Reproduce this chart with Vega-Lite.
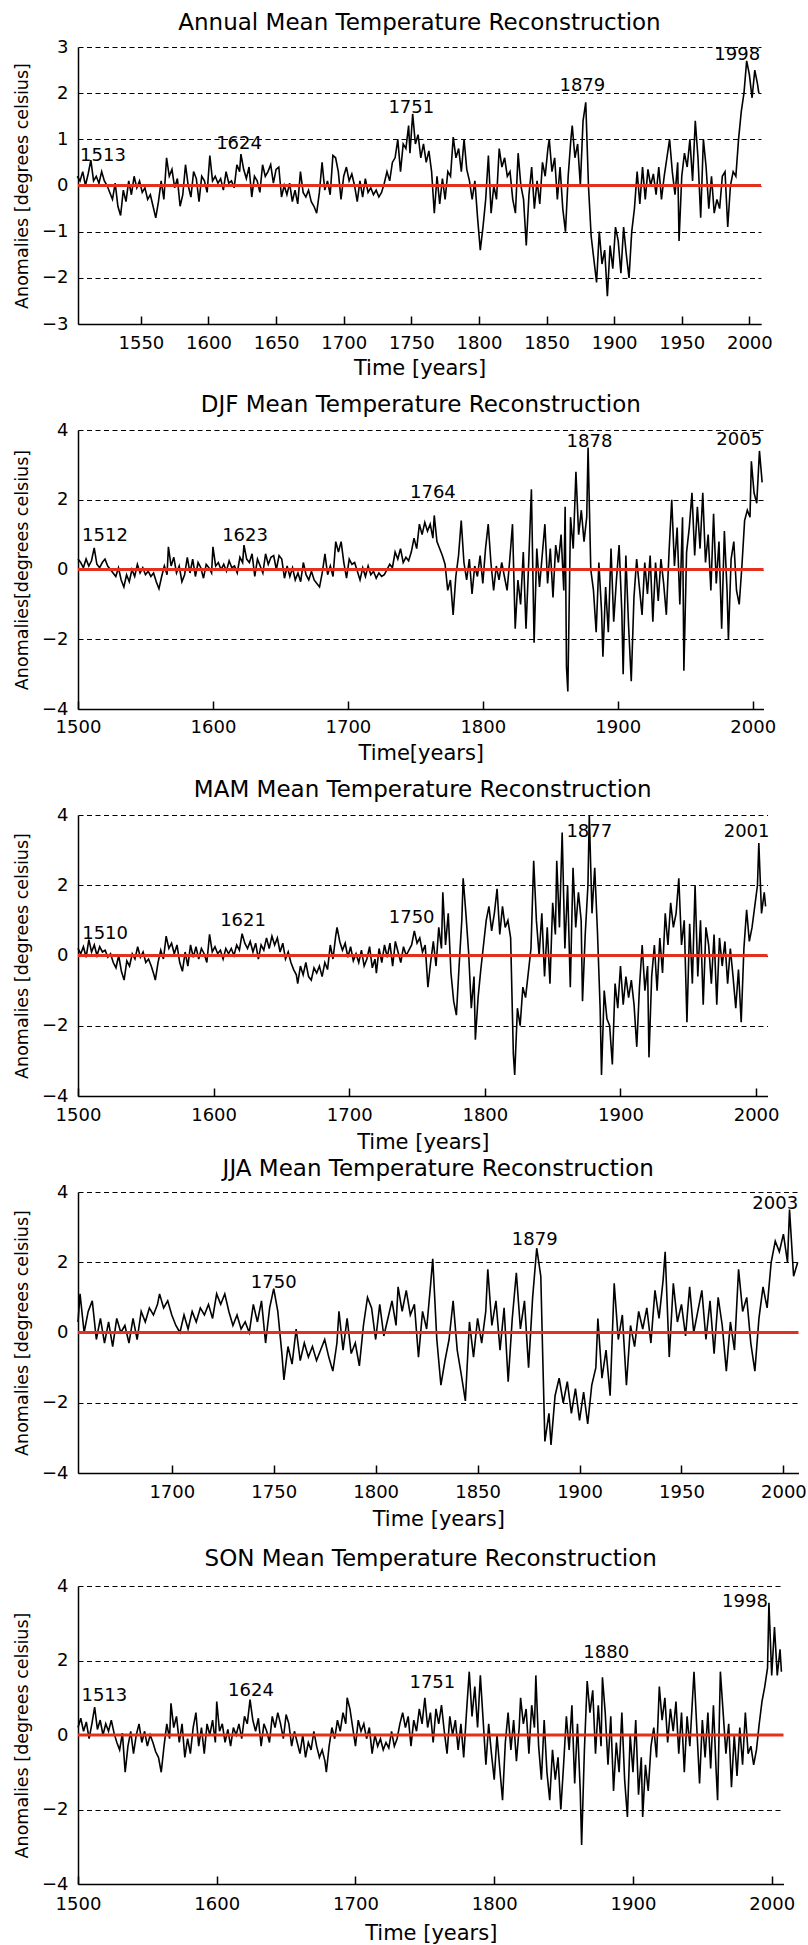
{
"$schema": "https://vega.github.io/schema/vega-lite/v6.json",
"padding": {"left": 12, "top": 12, "right": 0, "bottom": 0},
"columns": 1,
"align": "none",
"spacing": 4,
"config": {
  "font": "DejaVu Sans",
  "view": {"stroke": null},
  "axis": {"labelFont": "DejaVu Sans", "labelFontSize": 18, "labelColor": "#000", "titleFont": "DejaVu Sans", "titleFontWeight": "normal", "titleColor": "#000", "domainColor": "#000", "domainWidth": 1.5, "tickColor": "#000", "tickWidth": 1.5, "labelFlush": false, "labelOverlap": false, "labelBound": false},
  "axisX": {"grid": false, "tickSize": -8, "titleFontSize": 21, "format": "d"},
  "axisY": {"grid": true, "gridDash": [5, 3.5], "gridColor": "#000", "gridWidth": 1, "gridOpacity": 1, "ticks": false, "labelPadding": 10, "minExtent": 30, "maxExtent": 30, "titleFontSize": 17.5, "titlePadding": 17},
  "title": {"font": "DejaVu Sans", "fontSize": 23, "fontWeight": "normal", "color": "#000", "baseline": "bottom", "anchor": "middle", "frame": "group"}
},
"datasets": {
"ann": [{"x":1503,"y":0.2},{"x":1505,"y":0.1},{"x":1507,"y":0.3},{"x":1509,"y":0},{"x":1511,"y":0.25},{"x":1513,"y":0.55},{"x":1515,"y":0.1},{"x":1517,"y":0.2},{"x":1519,"y":0.05},{"x":1521,"y":0.3},{"x":1523,"y":0.1},{"x":1525,"y":0},{"x":1527,"y":-0.15},{"x":1529,"y":-0.3},{"x":1531,"y":0.05},{"x":1533,"y":-0.45},{"x":1535,"y":-0.65},{"x":1537,"y":-0.1},{"x":1539,"y":-0.35},{"x":1541,"y":0.1},{"x":1543,"y":-0.2},{"x":1545,"y":0.2},{"x":1547,"y":-0.05},{"x":1549,"y":0.1},{"x":1551,"y":-0.15},{"x":1553,"y":-0.05},{"x":1555,"y":-0.3},{"x":1557,"y":-0.2},{"x":1559,"y":-0.45},{"x":1561,"y":-0.7},{"x":1563,"y":-0.35},{"x":1565,"y":0.1},{"x":1567,"y":-0.3},{"x":1569,"y":0.6},{"x":1571,"y":0.2},{"x":1573,"y":0.35},{"x":1575,"y":-0.05},{"x":1577,"y":0.15},{"x":1579,"y":-0.45},{"x":1581,"y":-0.2},{"x":1583,"y":0.45},{"x":1585,"y":0},{"x":1587,"y":-0.25},{"x":1589,"y":0.3},{"x":1591,"y":0.15},{"x":1593,"y":-0.35},{"x":1595,"y":0.2},{"x":1597,"y":0.1},{"x":1599,"y":-0.15},{"x":1601,"y":0.65},{"x":1603,"y":0.1},{"x":1605,"y":0.2},{"x":1607,"y":0.05},{"x":1609,"y":0.15},{"x":1611,"y":-0.1},{"x":1613,"y":0.3},{"x":1615,"y":0.05},{"x":1617,"y":0.1},{"x":1619,"y":-0.05},{"x":1621,"y":0.45},{"x":1623,"y":0.3},{"x":1624,"y":0.68},{"x":1626,"y":0.35},{"x":1628,"y":0.15},{"x":1630,"y":0.4},{"x":1632,"y":-0.25},{"x":1634,"y":0.2},{"x":1636,"y":0.1},{"x":1638,"y":-0.15},{"x":1640,"y":0.45},{"x":1642,"y":0.2},{"x":1644,"y":0.3},{"x":1646,"y":0.45},{"x":1648,"y":0.05},{"x":1650,"y":0.35},{"x":1652,"y":0.4},{"x":1654,"y":-0.25},{"x":1656,"y":0},{"x":1658,"y":-0.2},{"x":1660,"y":0.05},{"x":1662,"y":-0.35},{"x":1664,"y":-0.1},{"x":1666,"y":-0.4},{"x":1668,"y":0.3},{"x":1670,"y":-0.15},{"x":1672,"y":-0.25},{"x":1674,"y":-0.1},{"x":1676,"y":-0.35},{"x":1678,"y":-0.45},{"x":1680,"y":-0.6},{"x":1682,"y":-0.15},{"x":1684,"y":0.5},{"x":1686,"y":-0.1},{"x":1688,"y":0.1},{"x":1690,"y":-0.2},{"x":1692,"y":0.65},{"x":1694,"y":0.6},{"x":1696,"y":0.3},{"x":1698,"y":-0.3},{"x":1700,"y":0.2},{"x":1702,"y":0.4},{"x":1704,"y":0.1},{"x":1706,"y":0.25},{"x":1708,"y":0},{"x":1710,"y":-0.35},{"x":1712,"y":0.1},{"x":1714,"y":-0.25},{"x":1716,"y":0.15},{"x":1718,"y":-0.15},{"x":1720,"y":-0.05},{"x":1722,"y":-0.2},{"x":1724,"y":-0.1},{"x":1726,"y":-0.25},{"x":1728,"y":-0.15},{"x":1730,"y":0.05},{"x":1732,"y":0.3},{"x":1734,"y":0.1},{"x":1736,"y":0.5},{"x":1738,"y":0.6},{"x":1740,"y":1.0},{"x":1742,"y":0.3},{"x":1744,"y":0.9},{"x":1746,"y":0.8},{"x":1748,"y":1.3},{"x":1749,"y":0.7},{"x":1751,"y":1.55},{"x":1753,"y":0.9},{"x":1755,"y":1.1},{"x":1757,"y":0.6},{"x":1759,"y":0.9},{"x":1761,"y":0.5},{"x":1763,"y":0.75},{"x":1765,"y":0.3},{"x":1767,"y":-0.6},{"x":1769,"y":0.2},{"x":1771,"y":-0.4},{"x":1773,"y":0.15},{"x":1775,"y":-0.3},{"x":1777,"y":0.3},{"x":1779,"y":0.2},{"x":1781,"y":1.05},{"x":1783,"y":0.6},{"x":1785,"y":0.8},{"x":1787,"y":0.3},{"x":1789,"y":1.0},{"x":1791,"y":0.35},{"x":1793,"y":0.1},{"x":1795,"y":-0.3},{"x":1797,"y":0.1},{"x":1799,"y":-0.7},{"x":1801,"y":-1.4},{"x":1803,"y":-0.9},{"x":1805,"y":-0.3},{"x":1807,"y":0.65},{"x":1809,"y":-0.6},{"x":1811,"y":0},{"x":1813,"y":-0.3},{"x":1815,"y":0.8},{"x":1817,"y":0.4},{"x":1819,"y":0.6},{"x":1821,"y":0.2},{"x":1823,"y":0.3},{"x":1825,"y":-0.3},{"x":1827,"y":-0.6},{"x":1829,"y":0.7},{"x":1831,"y":0},{"x":1833,"y":-0.3},{"x":1835,"y":-1.3},{"x":1837,"y":-0.2},{"x":1839,"y":0.4},{"x":1841,"y":-0.5},{"x":1843,"y":0.1},{"x":1845,"y":-0.4},{"x":1847,"y":0.5},{"x":1849,"y":0.2},{"x":1851,"y":0.8},{"x":1852,"y":1.0},{"x":1854,"y":0.3},{"x":1856,"y":0.6},{"x":1858,"y":-0.3},{"x":1860,"y":0.4},{"x":1862,"y":-0.5},{"x":1864,"y":-1.0},{"x":1866,"y":0.2},{"x":1868,"y":1.0},{"x":1869,"y":1.3},{"x":1871,"y":0.6},{"x":1873,"y":0.9},{"x":1875,"y":0},{"x":1877,"y":1.4},{"x":1879,"y":1.8},{"x":1881,"y":0},{"x":1883,"y":-1.1},{"x":1885,"y":-1.6},{"x":1887,"y":-2.1},{"x":1889,"y":-1.0},{"x":1891,"y":-1.7},{"x":1893,"y":-1.4},{"x":1895,"y":-2.4},{"x":1897,"y":-1.3},{"x":1899,"y":-1.8},{"x":1901,"y":-0.9},{"x":1903,"y":-1.2},{"x":1905,"y":-1.9},{"x":1907,"y":-0.9},{"x":1909,"y":-1.5},{"x":1911,"y":-2.0},{"x":1913,"y":-1.0},{"x":1915,"y":-0.5},{"x":1917,"y":0.3},{"x":1919,"y":-0.4},{"x":1921,"y":0.4},{"x":1923,"y":-0.3},{"x":1925,"y":0.35},{"x":1927,"y":0},{"x":1929,"y":0.25},{"x":1931,"y":-0.2},{"x":1933,"y":0.4},{"x":1935,"y":-0.3},{"x":1937,"y":0.2},{"x":1939,"y":0.6},{"x":1941,"y":1.0},{"x":1943,"y":0.3},{"x":1945,"y":-0.2},{"x":1947,"y":0.5},{"x":1948,"y":-1.2},{"x":1950,"y":0.2},{"x":1952,"y":0.7},{"x":1954,"y":0.4},{"x":1956,"y":1.0},{"x":1958,"y":0.1},{"x":1960,"y":1.4},{"x":1962,"y":0.6},{"x":1964,"y":-0.7},{"x":1966,"y":1.0},{"x":1968,"y":0.4},{"x":1970,"y":-0.5},{"x":1972,"y":0.2},{"x":1974,"y":-0.6},{"x":1976,"y":-0.3},{"x":1978,"y":-0.5},{"x":1980,"y":0.2},{"x":1982,"y":0.3},{"x":1984,"y":-0.9},{"x":1986,"y":0},{"x":1988,"y":0.3},{"x":1990,"y":0.2},{"x":1992,"y":1.0},{"x":1994,"y":1.6},{"x":1996,"y":2.0},{"x":1998,"y":2.7},{"x":2000,"y":2.4},{"x":2002,"y":1.9},{"x":2004,"y":2.5},{"x":2006,"y":2.2},{"x":2007,"y":2.0}],
"annL": [{"x":1522,"y":0.63,"t":"1513"},{"x":1622.6,"y":0.89,"t":"1624"},{"x":1750,"y":1.67,"t":"1751"},{"x":1876.5,"y":2.15,"t":"1879"},{"x":1991,"y":2.82,"t":"1998"}],
"djf": [{"x":1500,"y":0.3},{"x":1502,"y":0.2},{"x":1504,"y":0.05},{"x":1506,"y":0.3},{"x":1508,"y":0.1},{"x":1510,"y":0.25},{"x":1512,"y":0.62},{"x":1514,"y":0.15},{"x":1516,"y":0.05},{"x":1518,"y":0.2},{"x":1520,"y":0.3},{"x":1522,"y":0.1},{"x":1524,"y":0},{"x":1526,"y":-0.1},{"x":1528,"y":-0.2},{"x":1530,"y":0.05},{"x":1532,"y":-0.3},{"x":1534,"y":-0.5},{"x":1536,"y":-0.15},{"x":1538,"y":-0.35},{"x":1540,"y":0},{"x":1542,"y":-0.2},{"x":1544,"y":0.15},{"x":1546,"y":-0.1},{"x":1548,"y":0.05},{"x":1550,"y":-0.15},{"x":1552,"y":-0.05},{"x":1554,"y":-0.2},{"x":1556,"y":-0.1},{"x":1558,"y":-0.35},{"x":1560,"y":-0.55},{"x":1562,"y":-0.2},{"x":1564,"y":0.1},{"x":1566,"y":-0.15},{"x":1567,"y":0.65},{"x":1569,"y":0.1},{"x":1571,"y":0.35},{"x":1573,"y":-0.1},{"x":1575,"y":0.1},{"x":1577,"y":-0.35},{"x":1579,"y":-0.15},{"x":1581,"y":0.35},{"x":1583,"y":-0.1},{"x":1585,"y":0.3},{"x":1587,"y":-0.2},{"x":1589,"y":0.2},{"x":1591,"y":0.05},{"x":1593,"y":-0.25},{"x":1595,"y":0.15},{"x":1597,"y":0.05},{"x":1599,"y":-0.1},{"x":1600,"y":0.65},{"x":1602,"y":0.1},{"x":1604,"y":0.2},{"x":1606,"y":0},{"x":1608,"y":0.15},{"x":1610,"y":-0.05},{"x":1612,"y":0.25},{"x":1614,"y":0.05},{"x":1616,"y":0.1},{"x":1618,"y":-0.1},{"x":1620,"y":0.35},{"x":1622,"y":0.2},{"x":1623,"y":0.7},{"x":1625,"y":0.3},{"x":1627,"y":0.2},{"x":1629,"y":0.45},{"x":1631,"y":-0.2},{"x":1633,"y":0.3},{"x":1635,"y":0.1},{"x":1637,"y":-0.1},{"x":1639,"y":0.45},{"x":1641,"y":0.15},{"x":1643,"y":0.35},{"x":1645,"y":0.4},{"x":1647,"y":0},{"x":1649,"y":0.4},{"x":1651,"y":0.3},{"x":1653,"y":-0.25},{"x":1655,"y":0.1},{"x":1657,"y":-0.2},{"x":1659,"y":0.05},{"x":1661,"y":-0.3},{"x":1663,"y":-0.1},{"x":1665,"y":-0.35},{"x":1667,"y":0.2},{"x":1669,"y":-0.15},{"x":1671,"y":-0.3},{"x":1673,"y":-0.05},{"x":1675,"y":-0.3},{"x":1677,"y":-0.4},{"x":1679,"y":-0.5},{"x":1681,"y":-0.1},{"x":1683,"y":0.45},{"x":1685,"y":-0.15},{"x":1687,"y":0.1},{"x":1689,"y":-0.2},{"x":1691,"y":0.8},{"x":1693,"y":0.5},{"x":1695,"y":0.8},{"x":1697,"y":0.2},{"x":1699,"y":-0.25},{"x":1701,"y":0.3},{"x":1703,"y":0.15},{"x":1705,"y":0.2},{"x":1707,"y":-0.05},{"x":1709,"y":-0.3},{"x":1711,"y":0.05},{"x":1713,"y":-0.2},{"x":1715,"y":0.1},{"x":1717,"y":-0.15},{"x":1719,"y":-0.05},{"x":1721,"y":-0.25},{"x":1723,"y":-0.1},{"x":1725,"y":-0.2},{"x":1727,"y":-0.15},{"x":1729,"y":0},{"x":1731,"y":0.15},{"x":1733,"y":0.05},{"x":1735,"y":0.5},{"x":1737,"y":0.3},{"x":1739,"y":0.6},{"x":1741,"y":0.2},{"x":1743,"y":0.35},{"x":1745,"y":0.25},{"x":1747,"y":0.5},{"x":1749,"y":0.9},{"x":1751,"y":0.6},{"x":1753,"y":1.3},{"x":1755,"y":1.0},{"x":1757,"y":1.35},{"x":1759,"y":1.1},{"x":1761,"y":1.3},{"x":1763,"y":0.9},{"x":1764,"y":1.55},{"x":1766,"y":0.8},{"x":1768,"y":0.6},{"x":1770,"y":0.4},{"x":1772,"y":0.15},{"x":1774,"y":-0.6},{"x":1776,"y":-0.3},{"x":1778,"y":-1.3},{"x":1780,"y":-0.2},{"x":1782,"y":0.4},{"x":1784,"y":1.4},{"x":1786,"y":0.2},{"x":1788,"y":-0.3},{"x":1790,"y":0.3},{"x":1792,"y":-0.7},{"x":1794,"y":0.1},{"x":1796,"y":-0.2},{"x":1798,"y":0.4},{"x":1800,"y":-0.4},{"x":1802,"y":0.6},{"x":1804,"y":1.3},{"x":1806,"y":0.2},{"x":1808,"y":-0.6},{"x":1810,"y":0.1},{"x":1812,"y":-0.3},{"x":1814,"y":0.2},{"x":1816,"y":-0.2},{"x":1818,"y":-0.6},{"x":1820,"y":0.3},{"x":1822,"y":1.3},{"x":1824,"y":-1.7},{"x":1826,"y":-0.3},{"x":1828,"y":-1.0},{"x":1830,"y":0.5},{"x":1832,"y":-1.7},{"x":1834,"y":0.2},{"x":1836,"y":2.3},{"x":1838,"y":-2.1},{"x":1840,"y":0.6},{"x":1842,"y":-0.5},{"x":1844,"y":0.4},{"x":1846,"y":1.3},{"x":1848,"y":-0.4},{"x":1850,"y":0.6},{"x":1852,"y":-0.8},{"x":1854,"y":0.7},{"x":1856,"y":0.2},{"x":1858,"y":1.0},{"x":1860,"y":-0.6},{"x":1861,"y":1.8},{"x":1862,"y":-2.8},{"x":1863,"y":-3.5},{"x":1865,"y":1.5},{"x":1867,"y":0.6},{"x":1869,"y":2.8},{"x":1871,"y":1.0},{"x":1873,"y":1.7},{"x":1875,"y":0.8},{"x":1877,"y":1.5},{"x":1878,"y":3.5},{"x":1880,"y":0},{"x":1882,"y":-0.6},{"x":1884,"y":-1.8},{"x":1886,"y":0.2},{"x":1888,"y":-1.2},{"x":1889,"y":-2.5},{"x":1891,"y":-0.5},{"x":1893,"y":-1.8},{"x":1895,"y":0.6},{"x":1897,"y":-1.5},{"x":1899,"y":-0.3},{"x":1901,"y":0.7},{"x":1903,"y":-1.2},{"x":1904,"y":-3.0},{"x":1906,"y":0.4},{"x":1908,"y":-1.6},{"x":1910,"y":-3.2},{"x":1912,"y":-0.8},{"x":1914,"y":0.3},{"x":1916,"y":-0.5},{"x":1918,"y":-1.3},{"x":1920,"y":0.2},{"x":1922,"y":-0.7},{"x":1924,"y":0.4},{"x":1926,"y":-1.5},{"x":1928,"y":0.2},{"x":1930,"y":-0.9},{"x":1932,"y":0.3},{"x":1934,"y":-0.4},{"x":1936,"y":-1.3},{"x":1938,"y":0.5},{"x":1940,"y":2.0},{"x":1942,"y":0.1},{"x":1944,"y":1.2},{"x":1946,"y":-1.0},{"x":1948,"y":1.5},{"x":1949,"y":-2.9},{"x":1951,"y":0.5},{"x":1953,"y":1.2},{"x":1955,"y":2.2},{"x":1957,"y":0.4},{"x":1959,"y":1.8},{"x":1961,"y":0.6},{"x":1963,"y":2.2},{"x":1965,"y":0.2},{"x":1967,"y":1.0},{"x":1969,"y":-0.6},{"x":1971,"y":1.6},{"x":1973,"y":-0.4},{"x":1975,"y":0.8},{"x":1977,"y":-1.7},{"x":1979,"y":1.1},{"x":1981,"y":-0.6},{"x":1982,"y":-2.0},{"x":1984,"y":0.3},{"x":1986,"y":0.8},{"x":1988,"y":-0.6},{"x":1990,"y":-1.0},{"x":1992,"y":0.1},{"x":1994,"y":1.4},{"x":1996,"y":1.7},{"x":1998,"y":1.5},{"x":1999,"y":3.1},{"x":2001,"y":2.2},{"x":2003,"y":1.9},{"x":2005,"y":3.4},{"x":2007,"y":2.5}],
"djfL": [{"x":1520,"y":0.95,"t":"1512"},{"x":1623.8,"y":0.95,"t":"1623"},{"x":1763,"y":2.18,"t":"1764"},{"x":1879,"y":3.65,"t":"1878"},{"x":1990,"y":3.7,"t":"2005"}],
"mam": [{"x":1500,"y":0.2},{"x":1502,"y":0.05},{"x":1504,"y":0.25},{"x":1506,"y":-0.05},{"x":1508,"y":0.45},{"x":1510,"y":0.1},{"x":1512,"y":0.3},{"x":1514,"y":0},{"x":1516,"y":0.25},{"x":1518,"y":0.1},{"x":1520,"y":0.15},{"x":1522,"y":-0.05},{"x":1524,"y":0.05},{"x":1526,"y":-0.2},{"x":1528,"y":-0.35},{"x":1530,"y":0},{"x":1532,"y":-0.45},{"x":1534,"y":-0.7},{"x":1536,"y":-0.15},{"x":1538,"y":-0.3},{"x":1540,"y":0.05},{"x":1542,"y":-0.1},{"x":1544,"y":0.25},{"x":1546,"y":-0.05},{"x":1548,"y":0.1},{"x":1550,"y":-0.2},{"x":1552,"y":-0.1},{"x":1554,"y":-0.3},{"x":1556,"y":-0.55},{"x":1557,"y":-0.7},{"x":1559,"y":-0.2},{"x":1561,"y":0.15},{"x":1563,"y":-0.1},{"x":1565,"y":0.55},{"x":1567,"y":0.2},{"x":1569,"y":0.35},{"x":1571,"y":0.05},{"x":1573,"y":0.3},{"x":1575,"y":-0.2},{"x":1577,"y":-0.45},{"x":1579,"y":0.1},{"x":1581,"y":-0.3},{"x":1583,"y":0.3},{"x":1585,"y":-0.05},{"x":1587,"y":0.25},{"x":1589,"y":-0.1},{"x":1591,"y":0.2},{"x":1593,"y":0.05},{"x":1595,"y":-0.2},{"x":1597,"y":0.6},{"x":1599,"y":0.1},{"x":1601,"y":0.25},{"x":1603,"y":0.05},{"x":1605,"y":0.15},{"x":1607,"y":-0.1},{"x":1609,"y":0.2},{"x":1611,"y":0.05},{"x":1613,"y":0.2},{"x":1615,"y":0},{"x":1617,"y":0.3},{"x":1619,"y":0.15},{"x":1621,"y":0.62},{"x":1623,"y":0.35},{"x":1625,"y":0.2},{"x":1627,"y":0.4},{"x":1629,"y":0.1},{"x":1631,"y":0.35},{"x":1633,"y":-0.1},{"x":1635,"y":0.3},{"x":1637,"y":0.15},{"x":1639,"y":0.5},{"x":1641,"y":0.2},{"x":1643,"y":0.55},{"x":1645,"y":0.3},{"x":1647,"y":0.5},{"x":1649,"y":0.1},{"x":1651,"y":0.35},{"x":1653,"y":-0.1},{"x":1655,"y":0.1},{"x":1657,"y":-0.2},{"x":1659,"y":-0.4},{"x":1661,"y":-0.55},{"x":1662,"y":-0.8},{"x":1664,"y":-0.3},{"x":1666,"y":-0.55},{"x":1668,"y":-0.2},{"x":1670,"y":-0.6},{"x":1672,"y":-0.7},{"x":1674,"y":-0.35},{"x":1676,"y":-0.5},{"x":1678,"y":-0.3},{"x":1680,"y":-0.6},{"x":1682,"y":-0.2},{"x":1684,"y":-0.4},{"x":1686,"y":0.3},{"x":1688,"y":-0.1},{"x":1690,"y":0.55},{"x":1691,"y":0.8},{"x":1693,"y":0.4},{"x":1695,"y":0.15},{"x":1697,"y":0.35},{"x":1699,"y":-0.05},{"x":1701,"y":0.25},{"x":1703,"y":-0.15},{"x":1705,"y":0.05},{"x":1707,"y":-0.2},{"x":1709,"y":0.15},{"x":1711,"y":-0.3},{"x":1713,"y":-0.1},{"x":1715,"y":0.25},{"x":1717,"y":-0.35},{"x":1719,"y":-0.1},{"x":1720,"y":-0.5},{"x":1722,"y":0.2},{"x":1724,"y":-0.2},{"x":1726,"y":0.3},{"x":1728,"y":-0.05},{"x":1730,"y":0.35},{"x":1732,"y":-0.3},{"x":1734,"y":0.4},{"x":1736,"y":0.1},{"x":1738,"y":-0.2},{"x":1740,"y":0.25},{"x":1742,"y":0},{"x":1744,"y":0.15},{"x":1746,"y":0.3},{"x":1748,"y":0.7},{"x":1750,"y":0.35},{"x":1752,"y":0.5},{"x":1754,"y":0.1},{"x":1756,"y":0.3},{"x":1758,"y":-0.9},{"x":1760,"y":-0.2},{"x":1762,"y":0.4},{"x":1764,"y":-0.3},{"x":1766,"y":0.8},{"x":1768,"y":0.2},{"x":1769,"y":1.8},{"x":1771,"y":0.3},{"x":1773,"y":1.2},{"x":1775,"y":-0.5},{"x":1777,"y":-1.3},{"x":1779,"y":-1.7},{"x":1781,"y":-0.3},{"x":1783,"y":1.0},{"x":1784,"y":2.2},{"x":1786,"y":1.2},{"x":1788,"y":0.1},{"x":1790,"y":-1.5},{"x":1792,"y":-0.6},{"x":1793,"y":-2.4},{"x":1795,"y":-1.2},{"x":1797,"y":-0.4},{"x":1799,"y":0.3},{"x":1801,"y":1.0},{"x":1803,"y":1.4},{"x":1805,"y":0.7},{"x":1807,"y":1.2},{"x":1809,"y":1.9},{"x":1811,"y":0.6},{"x":1813,"y":1.4},{"x":1815,"y":0.8},{"x":1817,"y":1.0},{"x":1819,"y":0.5},{"x":1821,"y":-2.8},{"x":1822,"y":-3.4},{"x":1824,"y":-1.5},{"x":1826,"y":-2.0},{"x":1828,"y":-0.9},{"x":1830,"y":-1.2},{"x":1832,"y":-0.5},{"x":1834,"y":0.2},{"x":1836,"y":2.7},{"x":1838,"y":1.0},{"x":1840,"y":0},{"x":1842,"y":1.2},{"x":1844,"y":-0.6},{"x":1846,"y":0.8},{"x":1848,"y":-0.8},{"x":1850,"y":1.5},{"x":1852,"y":0.6},{"x":1853,"y":2.7},{"x":1855,"y":0.8},{"x":1857,"y":3.5},{"x":1859,"y":0.2},{"x":1861,"y":2.0},{"x":1863,"y":-0.9},{"x":1865,"y":2.5},{"x":1867,"y":0.8},{"x":1869,"y":1.8},{"x":1871,"y":1.0},{"x":1872,"y":-1.3},{"x":1874,"y":0.6},{"x":1876,"y":2.0},{"x":1877,"y":4.0},{"x":1879,"y":1.2},{"x":1881,"y":2.5},{"x":1883,"y":0.7},{"x":1885,"y":-1.5},{"x":1886,"y":-3.4},{"x":1888,"y":-1.0},{"x":1890,"y":-1.8},{"x":1892,"y":-2.0},{"x":1894,"y":-3.1},{"x":1896,"y":-0.8},{"x":1898,"y":-1.5},{"x":1900,"y":-0.3},{"x":1902,"y":-1.4},{"x":1904,"y":-0.6},{"x":1906,"y":-1.2},{"x":1908,"y":-0.7},{"x":1910,"y":-1.4},{"x":1912,"y":-2.6},{"x":1914,"y":-0.9},{"x":1916,"y":0.3},{"x":1918,"y":-1.0},{"x":1920,"y":-0.3},{"x":1921,"y":-2.9},{"x":1923,"y":-0.6},{"x":1925,"y":0.3},{"x":1927,"y":-1.0},{"x":1929,"y":0.5},{"x":1931,"y":-0.5},{"x":1933,"y":1.2},{"x":1935,"y":0.3},{"x":1937,"y":1.5},{"x":1939,"y":0.8},{"x":1941,"y":1.2},{"x":1943,"y":2.2},{"x":1945,"y":0.3},{"x":1947,"y":1.0},{"x":1949,"y":-1.9},{"x":1951,"y":0.9},{"x":1953,"y":-0.8},{"x":1955,"y":2.0},{"x":1957,"y":-0.6},{"x":1959,"y":1.0},{"x":1961,"y":-1.4},{"x":1963,"y":0.8},{"x":1965,"y":0.3},{"x":1967,"y":-0.8},{"x":1969,"y":0.6},{"x":1971,"y":-1.4},{"x":1973,"y":0.5},{"x":1975,"y":-0.3},{"x":1977,"y":0.4},{"x":1979,"y":-0.8},{"x":1981,"y":0.2},{"x":1983,"y":-0.6},{"x":1985,"y":-1.5},{"x":1987,"y":-0.4},{"x":1989,"y":-1.9},{"x":1991,"y":0.2},{"x":1993,"y":1.3},{"x":1995,"y":0.4},{"x":1997,"y":0.8},{"x":1999,"y":1.4},{"x":2001,"y":2.0},{"x":2002,"y":3.2},{"x":2004,"y":1.2},{"x":2006,"y":1.8},{"x":2007,"y":1.4}],
"mamL": [{"x":1520,"y":0.62,"t":"1510"},{"x":1621.7,"y":0.98,"t":"1621"},{"x":1746,"y":1.07,"t":"1750"},{"x":1877,"y":3.52,"t":"1877"},{"x":1993,"y":3.52,"t":"2001"}],
"jja": [{"x":1654,"y":0.3},{"x":1655,"y":1.1},{"x":1657,"y":0},{"x":1659,"y":0.6},{"x":1661,"y":0.9},{"x":1663,"y":-0.2},{"x":1665,"y":0.4},{"x":1667,"y":-0.3},{"x":1669,"y":0.3},{"x":1671,"y":-0.4},{"x":1673,"y":0.4},{"x":1675,"y":0},{"x":1677,"y":0.2},{"x":1679,"y":-0.3},{"x":1681,"y":0.4},{"x":1683,"y":-0.2},{"x":1685,"y":0.6},{"x":1687,"y":0.3},{"x":1689,"y":0.7},{"x":1691,"y":0.5},{"x":1693,"y":0.8},{"x":1694,"y":1.1},{"x":1696,"y":0.7},{"x":1698,"y":0.9},{"x":1700,"y":0.5},{"x":1702,"y":0.2},{"x":1704,"y":0},{"x":1706,"y":0.5},{"x":1708,"y":0.1},{"x":1710,"y":0.6},{"x":1712,"y":0.3},{"x":1714,"y":0.7},{"x":1716,"y":0.5},{"x":1718,"y":0.8},{"x":1720,"y":0.4},{"x":1722,"y":1.1},{"x":1724,"y":0.8},{"x":1726,"y":1.1},{"x":1728,"y":0.6},{"x":1730,"y":0.2},{"x":1732,"y":0.5},{"x":1734,"y":0.1},{"x":1736,"y":0.3},{"x":1738,"y":0},{"x":1740,"y":0.8},{"x":1742,"y":0.3},{"x":1744,"y":0.9},{"x":1746,"y":-0.3},{"x":1748,"y":0.7},{"x":1750,"y":1.25},{"x":1752,"y":0.6},{"x":1754,"y":-0.6},{"x":1755,"y":-1.35},{"x":1757,"y":-0.4},{"x":1759,"y":-0.9},{"x":1761,"y":0.1},{"x":1763,"y":-0.8},{"x":1765,"y":-0.3},{"x":1767,"y":-0.7},{"x":1769,"y":-0.4},{"x":1771,"y":-0.8},{"x":1773,"y":-0.5},{"x":1775,"y":-0.2},{"x":1777,"y":-0.7},{"x":1779,"y":-1.1},{"x":1781,"y":-0.3},{"x":1782,"y":0.6},{"x":1784,"y":-0.5},{"x":1786,"y":0.4},{"x":1788,"y":-0.6},{"x":1790,"y":-0.3},{"x":1792,"y":-0.95},{"x":1794,"y":0.2},{"x":1796,"y":1.0},{"x":1798,"y":0.7},{"x":1800,"y":-0.2},{"x":1802,"y":0.8},{"x":1804,"y":-0.1},{"x":1806,"y":0.4},{"x":1808,"y":0.9},{"x":1810,"y":0.2},{"x":1811,"y":1.3},{"x":1813,"y":0.6},{"x":1815,"y":1.2},{"x":1817,"y":0.5},{"x":1819,"y":0.8},{"x":1821,"y":-0.7},{"x":1823,"y":0.6},{"x":1825,"y":0.1},{"x":1827,"y":1.4},{"x":1828,"y":2.1},{"x":1830,"y":-0.2},{"x":1832,"y":-1.5},{"x":1834,"y":-0.8},{"x":1836,"y":-0.2},{"x":1838,"y":0.9},{"x":1840,"y":-0.5},{"x":1842,"y":-1.2},{"x":1844,"y":-1.95},{"x":1846,"y":0.3},{"x":1848,"y":-0.7},{"x":1850,"y":0.4},{"x":1852,"y":-0.3},{"x":1854,"y":0.6},{"x":1855,"y":1.8},{"x":1857,"y":0.2},{"x":1859,"y":0.9},{"x":1861,"y":-0.5},{"x":1863,"y":0.7},{"x":1865,"y":-1.4},{"x":1867,"y":0.4},{"x":1869,"y":1.7},{"x":1871,"y":0.1},{"x":1873,"y":0.9},{"x":1875,"y":-1.0},{"x":1877,"y":1.0},{"x":1879,"y":2.4},{"x":1881,"y":1.6},{"x":1882,"y":-0.8},{"x":1883,"y":-3.1},{"x":1885,"y":-2.3},{"x":1886,"y":-3.2},{"x":1888,"y":-1.8},{"x":1890,"y":-1.3},{"x":1892,"y":-2.0},{"x":1894,"y":-1.4},{"x":1896,"y":-2.3},{"x":1898,"y":-1.6},{"x":1900,"y":-2.5},{"x":1902,"y":-1.7},{"x":1904,"y":-2.6},{"x":1906,"y":-1.5},{"x":1908,"y":-1.0},{"x":1909,"y":0.4},{"x":1911,"y":-1.3},{"x":1913,"y":-0.5},{"x":1915,"y":-1.8},{"x":1917,"y":1.4},{"x":1919,"y":-0.2},{"x":1921,"y":0.5},{"x":1923,"y":-1.5},{"x":1925,"y":0.2},{"x":1927,"y":-0.4},{"x":1929,"y":0.6},{"x":1931,"y":0.1},{"x":1933,"y":0.7},{"x":1935,"y":-0.3},{"x":1937,"y":1.2},{"x":1939,"y":0.4},{"x":1941,"y":1.5},{"x":1942,"y":2.3},{"x":1944,"y":-0.7},{"x":1946,"y":1.4},{"x":1948,"y":0.3},{"x":1950,"y":0.8},{"x":1952,"y":-0.1},{"x":1954,"y":1.3},{"x":1956,"y":0},{"x":1958,"y":0.6},{"x":1960,"y":1.2},{"x":1962,"y":-0.2},{"x":1964,"y":0.9},{"x":1966,"y":-0.6},{"x":1968,"y":1.0},{"x":1970,"y":0.2},{"x":1972,"y":-1.1},{"x":1974,"y":0.3},{"x":1976,"y":-0.5},{"x":1978,"y":1.8},{"x":1980,"y":0.6},{"x":1982,"y":1.0},{"x":1984,"y":-0.3},{"x":1986,"y":-1.1},{"x":1988,"y":0.4},{"x":1990,"y":1.3},{"x":1992,"y":0.7},{"x":1994,"y":2.0},{"x":1996,"y":2.6},{"x":1998,"y":2.3},{"x":2000,"y":2.8},{"x":2002,"y":2.0},{"x":2003,"y":3.5},{"x":2005,"y":1.6},{"x":2007,"y":2.0}],
"jjaL": [{"x":1750,"y":1.42,"t":"1750"},{"x":1878,"y":2.64,"t":"1879"},{"x":1996,"y":3.65,"t":"2003"}],
"son": [{"x":1500,"y":0.2},{"x":1502,"y":0.45},{"x":1504,"y":0.1},{"x":1506,"y":0.35},{"x":1508,"y":-0.1},{"x":1510,"y":0.3},{"x":1512,"y":0.75},{"x":1514,"y":0.15},{"x":1516,"y":0.4},{"x":1518,"y":0},{"x":1520,"y":0.3},{"x":1522,"y":0.1},{"x":1524,"y":0.4},{"x":1526,"y":0.05},{"x":1528,"y":-0.2},{"x":1530,"y":-0.4},{"x":1532,"y":0.05},{"x":1534,"y":-1.0},{"x":1536,"y":-0.3},{"x":1538,"y":0.1},{"x":1540,"y":-0.5},{"x":1542,"y":0},{"x":1544,"y":0.3},{"x":1546,"y":-0.2},{"x":1548,"y":0.1},{"x":1550,"y":-0.3},{"x":1552,"y":0},{"x":1554,"y":-0.2},{"x":1556,"y":-0.45},{"x":1558,"y":-0.6},{"x":1560,"y":-1.0},{"x":1562,"y":-0.3},{"x":1564,"y":0.3},{"x":1566,"y":-0.1},{"x":1567,"y":0.85},{"x":1569,"y":0.2},{"x":1571,"y":0.5},{"x":1573,"y":-0.2},{"x":1575,"y":0.3},{"x":1577,"y":-0.6},{"x":1579,"y":-0.1},{"x":1581,"y":-0.5},{"x":1583,"y":0.2},{"x":1585,"y":0.6},{"x":1587,"y":-0.3},{"x":1589,"y":0.2},{"x":1591,"y":-0.5},{"x":1593,"y":0.3},{"x":1595,"y":0},{"x":1597,"y":0.4},{"x":1599,"y":-0.2},{"x":1600,"y":0.9},{"x":1602,"y":0.1},{"x":1604,"y":0.3},{"x":1606,"y":-0.2},{"x":1608,"y":0.15},{"x":1610,"y":-0.3},{"x":1612,"y":0.2},{"x":1614,"y":0},{"x":1616,"y":0.3},{"x":1618,"y":-0.1},{"x":1620,"y":0.5},{"x":1622,"y":0.3},{"x":1624,"y":0.95},{"x":1626,"y":0.4},{"x":1628,"y":0.1},{"x":1630,"y":0.45},{"x":1632,"y":-0.3},{"x":1634,"y":0.3},{"x":1636,"y":0.1},{"x":1638,"y":-0.2},{"x":1640,"y":0.5},{"x":1642,"y":0.2},{"x":1644,"y":0.6},{"x":1646,"y":0.3},{"x":1648,"y":-0.1},{"x":1650,"y":0.55},{"x":1652,"y":0.3},{"x":1654,"y":-0.3},{"x":1656,"y":0.1},{"x":1658,"y":-0.2},{"x":1660,"y":-0.5},{"x":1662,"y":0},{"x":1664,"y":-0.6},{"x":1666,"y":-0.2},{"x":1668,"y":-0.4},{"x":1670,"y":0.1},{"x":1672,"y":-0.3},{"x":1674,"y":-0.6},{"x":1676,"y":-0.4},{"x":1678,"y":-0.7},{"x":1679,"y":-1.0},{"x":1681,"y":-0.3},{"x":1683,"y":0.2},{"x":1685,"y":-0.1},{"x":1687,"y":0.4},{"x":1689,"y":0.1},{"x":1691,"y":0.6},{"x":1693,"y":0.3},{"x":1694,"y":1.0},{"x":1696,"y":0.7},{"x":1698,"y":0.2},{"x":1700,"y":-0.3},{"x":1702,"y":0.4},{"x":1704,"y":0.1},{"x":1706,"y":0.3},{"x":1708,"y":-0.1},{"x":1710,"y":0.2},{"x":1712,"y":-0.5},{"x":1714,"y":0},{"x":1716,"y":-0.3},{"x":1718,"y":-0.1},{"x":1720,"y":-0.4},{"x":1722,"y":-0.2},{"x":1724,"y":-0.35},{"x":1726,"y":0.1},{"x":1728,"y":-0.3},{"x":1730,"y":-0.1},{"x":1732,"y":0.3},{"x":1734,"y":0.6},{"x":1736,"y":0.2},{"x":1738,"y":0.5},{"x":1740,"y":-0.3},{"x":1742,"y":0.4},{"x":1744,"y":0.1},{"x":1746,"y":0.7},{"x":1748,"y":0.3},{"x":1750,"y":1.0},{"x":1752,"y":0.2},{"x":1754,"y":0.6},{"x":1756,"y":-0.2},{"x":1758,"y":0.7},{"x":1760,"y":0.3},{"x":1762,"y":0.8},{"x":1764,"y":0.1},{"x":1766,"y":-0.5},{"x":1768,"y":0.5},{"x":1770,"y":0},{"x":1772,"y":0.4},{"x":1774,"y":-0.4},{"x":1776,"y":0.3},{"x":1778,"y":-0.6},{"x":1780,"y":0.6},{"x":1782,"y":1.7},{"x":1784,"y":0.5},{"x":1786,"y":1.3},{"x":1788,"y":0.2},{"x":1790,"y":1.6},{"x":1792,"y":0.4},{"x":1794,"y":-0.8},{"x":1796,"y":0.3},{"x":1798,"y":-0.5},{"x":1800,"y":-1.2},{"x":1802,"y":0},{"x":1804,"y":-0.9},{"x":1806,"y":-1.75},{"x":1808,"y":-0.2},{"x":1810,"y":0.6},{"x":1812,"y":-0.4},{"x":1814,"y":0.4},{"x":1816,"y":-0.7},{"x":1818,"y":0.2},{"x":1819,"y":1.0},{"x":1821,"y":0.3},{"x":1823,"y":0.7},{"x":1825,"y":-0.5},{"x":1827,"y":0.8},{"x":1829,"y":0.2},{"x":1830,"y":1.6},{"x":1832,"y":-0.3},{"x":1834,"y":-1.2},{"x":1836,"y":0.4},{"x":1838,"y":-1.0},{"x":1840,"y":-1.75},{"x":1842,"y":-0.4},{"x":1844,"y":-1.2},{"x":1846,"y":-0.6},{"x":1848,"y":-2.0},{"x":1850,"y":-0.8},{"x":1852,"y":0.5},{"x":1854,"y":-0.4},{"x":1856,"y":0.8},{"x":1858,"y":-1.3},{"x":1860,"y":0.3},{"x":1862,"y":-1.5},{"x":1863,"y":-2.95},{"x":1865,"y":-0.4},{"x":1867,"y":1.45},{"x":1869,"y":0.6},{"x":1871,"y":1.2},{"x":1873,"y":-0.5},{"x":1875,"y":0.8},{"x":1877,"y":-0.3},{"x":1878,"y":1.55},{"x":1880,"y":0.6},{"x":1882,"y":-0.8},{"x":1884,"y":0.5},{"x":1886,"y":-1.5},{"x":1888,"y":-0.2},{"x":1890,"y":-1.0},{"x":1892,"y":0.6},{"x":1894,"y":-1.2},{"x":1896,"y":-2.2},{"x":1898,"y":0},{"x":1900,"y":-1.0},{"x":1902,"y":0.4},{"x":1904,"y":-1.6},{"x":1906,"y":-0.6},{"x":1907,"y":-2.2},{"x":1909,"y":-0.8},{"x":1911,"y":-1.5},{"x":1913,"y":-0.3},{"x":1915,"y":0.2},{"x":1917,"y":-0.6},{"x":1919,"y":1.3},{"x":1921,"y":0.4},{"x":1923,"y":1.0},{"x":1925,"y":-0.2},{"x":1927,"y":0.7},{"x":1929,"y":0.1},{"x":1931,"y":0.9},{"x":1933,"y":-0.5},{"x":1935,"y":0.6},{"x":1937,"y":-1.0},{"x":1939,"y":0.5},{"x":1941,"y":-0.3},{"x":1944,"y":1.7},{"x":1946,"y":0.2},{"x":1948,"y":-1.3},{"x":1950,"y":0.4},{"x":1952,"y":-0.6},{"x":1954,"y":0.6},{"x":1956,"y":-0.9},{"x":1958,"y":0.8},{"x":1960,"y":-1.0},{"x":1961,"y":-1.75},{"x":1963,"y":1.7},{"x":1965,"y":0.6},{"x":1967,"y":-0.5},{"x":1969,"y":0.3},{"x":1971,"y":-1.4},{"x":1973,"y":0},{"x":1975,"y":-1.1},{"x":1977,"y":0.2},{"x":1979,"y":-0.8},{"x":1981,"y":0.6},{"x":1983,"y":-0.5},{"x":1985,"y":-0.3},{"x":1987,"y":-0.8},{"x":1989,"y":-0.4},{"x":1991,"y":0.3},{"x":1993,"y":0.9},{"x":1995,"y":1.3},{"x":1997,"y":1.8},{"x":1998,"y":3.55},{"x":2000,"y":1.6},{"x":2002,"y":2.9},{"x":2004,"y":1.6},{"x":2006,"y":2.3},{"x":2007,"y":1.7}],
"sonL": [{"x":1519,"y":1.05,"t":"1513"},{"x":1624.7,"y":1.17,"t":"1624"},{"x":1755.4,"y":1.4,"t":"1751"},{"x":1880.7,"y":2.2,"t":"1880"},{"x":1980.7,"y":3.58,"t":"1998"}],
"zero": [{"y":0}]
},
"concat": [
{
  "width": 683, "height": 277,
  "title": {"text": "Annual Mean Temperature Reconstruction", "offset": 3},
  "layer": [
    {"data": {"name": "ann"}, "mark": {"type": "line", "color": "#000", "strokeWidth": 1.6},
     "encoding": {
       "x": {"field": "x", "type": "quantitative", "title": "Time [years]", "scale": {"domain": [1503.5, 2008.6], "nice": false, "zero": false}, "axis": {"values": [1550,1600,1650,1700,1750,1800,1850,1900,1950,2000], "labelPadding": 18, "titlePadding": 5}},
       "y": {"field": "y", "type": "quantitative", "title": "Anomalies [degrees celsius]", "scale": {"domain": [-3, 3], "nice": false, "zero": false}, "axis": {"values": [-3,-2,-1,0,1,2,3]}}}},
    {"data": {"name": "zero"}, "mark": {"type": "rule", "color": "#e2311d", "strokeWidth": 3},
     "encoding": {"y": {"field": "y", "type": "quantitative", "title": "Anomalies [degrees celsius]", "scale": {"domain": [-3, 3], "nice": false, "zero": false}}}},
    {"data": {"name": "annL"}, "mark": {"type": "text", "font": "DejaVu Sans", "fontSize": 18, "color": "#000", "align": "center", "baseline": "middle"},
     "encoding": {
       "x": {"field": "x", "type": "quantitative", "title": "Time [years]", "scale": {"domain": [1503.5, 2008.6], "nice": false, "zero": false}},
       "y": {"field": "y", "type": "quantitative", "title": "Anomalies [degrees celsius]", "scale": {"domain": [-3, 3], "nice": false, "zero": false}},
       "text": {"field": "t"}}}
  ]
},
{
  "width": 685.5, "height": 279,
  "title": {"text": ["", "DJF Mean Temperature Reconstruction"], "offset": 4, "lineHeight": 11.5},
  "layer": [
    {"data": {"name": "djf"}, "mark": {"type": "line", "color": "#000", "strokeWidth": 1.6},
     "encoding": {
       "x": {"field": "x", "type": "quantitative", "title": "Time[years]", "scale": {"domain": [1500, 2008], "nice": false, "zero": false}, "axis": {"values": [1500,1600,1700,1800,1900,2000], "labelPadding": 17, "titlePadding": 6.5}},
       "y": {"field": "y", "type": "quantitative", "title": "Anomalies[degrees celsius]", "scale": {"domain": [-4, 4], "nice": false, "zero": false}, "axis": {"values": [-4,-2,0,2,4]}}}},
    {"data": {"name": "zero"}, "mark": {"type": "rule", "color": "#e2311d", "strokeWidth": 3},
     "encoding": {"y": {"field": "y", "type": "quantitative", "title": "Anomalies[degrees celsius]", "scale": {"domain": [-4, 4], "nice": false, "zero": false}}}},
    {"data": {"name": "djfL"}, "mark": {"type": "text", "font": "DejaVu Sans", "fontSize": 18, "color": "#000", "align": "center", "baseline": "middle"},
     "encoding": {
       "x": {"field": "x", "type": "quantitative", "title": "Time[years]", "scale": {"domain": [1500, 2008], "nice": false, "zero": false}},
       "y": {"field": "y", "type": "quantitative", "title": "Anomalies[degrees celsius]", "scale": {"domain": [-4, 4], "nice": false, "zero": false}},
       "text": {"field": "t"}}}
  ]
},
{
  "width": 689.5, "height": 281,
  "title": {"text": ["", "MAM Mean Temperature Reconstruction"], "offset": 4, "lineHeight": 10.8},
  "layer": [
    {"data": {"name": "mam"}, "mark": {"type": "line", "color": "#000", "strokeWidth": 1.6},
     "encoding": {
       "x": {"field": "x", "type": "quantitative", "title": "Time [years]", "scale": {"domain": [1500, 2008.4], "nice": false, "zero": false}, "axis": {"values": [1500,1600,1700,1800,1900,2000], "labelPadding": 18, "titlePadding": 7.8}},
       "y": {"field": "y", "type": "quantitative", "title": "Anomalies [degrees celsius]", "scale": {"domain": [-4, 4], "nice": false, "zero": false}, "axis": {"values": [-4,-2,0,2,4]}}}},
    {"data": {"name": "zero"}, "mark": {"type": "rule", "color": "#e2311d", "strokeWidth": 3},
     "encoding": {"y": {"field": "y", "type": "quantitative", "title": "Anomalies [degrees celsius]", "scale": {"domain": [-4, 4], "nice": false, "zero": false}}}},
    {"data": {"name": "mamL"}, "mark": {"type": "text", "font": "DejaVu Sans", "fontSize": 18, "color": "#000", "align": "center", "baseline": "middle"},
     "encoding": {
       "x": {"field": "x", "type": "quantitative", "title": "Time [years]", "scale": {"domain": [1500, 2008.4], "nice": false, "zero": false}},
       "y": {"field": "y", "type": "quantitative", "title": "Anomalies [degrees celsius]", "scale": {"domain": [-4, 4], "nice": false, "zero": false}},
       "text": {"field": "t"}}}
  ]
},
{
  "width": 720.5, "height": 281,
  "title": {"text": "JJA Mean Temperature Reconstruction", "offset": 2.5},
  "layer": [
    {"data": {"name": "jja"}, "mark": {"type": "line", "color": "#000", "strokeWidth": 1.6},
     "encoding": {
       "x": {"field": "x", "type": "quantitative", "title": "Time [years]", "scale": {"domain": [1654, 2007.4], "nice": false, "zero": false}, "axis": {"values": [1700,1750,1800,1850,1900,1950,2000], "labelPadding": 18.3, "titlePadding": 7.3}},
       "y": {"field": "y", "type": "quantitative", "title": "Anomalies [degrees celsius]", "scale": {"domain": [-4, 4], "nice": false, "zero": false}, "axis": {"values": [-4,-2,0,2,4]}}}},
    {"data": {"name": "zero"}, "mark": {"type": "rule", "color": "#e2311d", "strokeWidth": 3},
     "encoding": {"y": {"field": "y", "type": "quantitative", "title": "Anomalies [degrees celsius]", "scale": {"domain": [-4, 4], "nice": false, "zero": false}}}},
    {"data": {"name": "jjaL"}, "mark": {"type": "text", "font": "DejaVu Sans", "fontSize": 18, "color": "#000", "align": "center", "baseline": "middle"},
     "encoding": {
       "x": {"field": "x", "type": "quantitative", "title": "Time [years]", "scale": {"domain": [1654, 2007.4], "nice": false, "zero": false}},
       "y": {"field": "y", "type": "quantitative", "title": "Anomalies [degrees celsius]", "scale": {"domain": [-4, 4], "nice": false, "zero": false}},
       "text": {"field": "t"}}}
  ]
},
{
  "width": 705.5, "height": 298,
  "title": {"text": ["", "SON Mean Temperature Reconstruction"], "offset": 5.6, "lineHeight": 13.8},
  "layer": [
    {"data": {"name": "son"}, "mark": {"type": "line", "color": "#000", "strokeWidth": 1.6},
     "encoding": {
       "x": {"field": "x", "type": "quantitative", "title": "Time [years]", "scale": {"domain": [1500, 2008.5], "nice": false, "zero": false}, "axis": {"values": [1500,1600,1700,1800,1900,2000], "labelPadding": 19.7, "titlePadding": 8.6}},
       "y": {"field": "y", "type": "quantitative", "title": "Anomalies [degrees celsius]", "scale": {"domain": [-4, 4], "nice": false, "zero": false}, "axis": {"values": [-4,-2,0,2,4]}}}},
    {"data": {"name": "zero"}, "mark": {"type": "rule", "color": "#e2311d", "strokeWidth": 3},
     "encoding": {"y": {"field": "y", "type": "quantitative", "title": "Anomalies [degrees celsius]", "scale": {"domain": [-4, 4], "nice": false, "zero": false}}}},
    {"data": {"name": "sonL"}, "mark": {"type": "text", "font": "DejaVu Sans", "fontSize": 18, "color": "#000", "align": "center", "baseline": "middle"},
     "encoding": {
       "x": {"field": "x", "type": "quantitative", "title": "Time [years]", "scale": {"domain": [1500, 2008.5], "nice": false, "zero": false}},
       "y": {"field": "y", "type": "quantitative", "title": "Anomalies [degrees celsius]", "scale": {"domain": [-4, 4], "nice": false, "zero": false}},
       "text": {"field": "t"}}}
  ]
}
]
}
